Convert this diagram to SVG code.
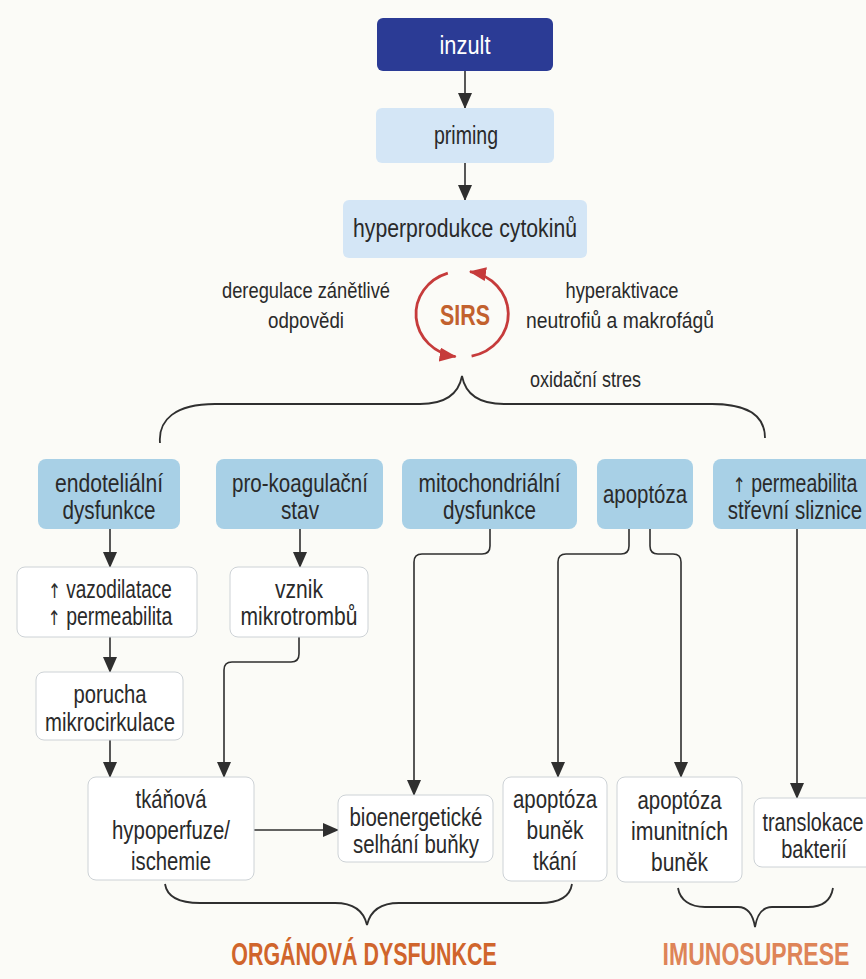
<svg xmlns="http://www.w3.org/2000/svg" width="866" height="979" viewBox="0 0 866 979">
<defs>
<style>
.t{font-family:"Liberation Sans",Arial,sans-serif;font-size:25px;fill:#2a2a2a;text-anchor:middle}
.top{font-size:26px}
.lbl{font-size:22px}
.wt{fill:#ffffff}
.ar{font-family:"DejaVu Sans",sans-serif;font-size:20px}
.sirs{font-weight:bold;font-size:30px;fill:#c2612e}
.title{font-weight:bold;font-size:32px;fill:#d0652c}
.title2{font-weight:bold;font-size:32px;fill:#de8458}
.bd{fill:#2b3b95}
.bl{fill:#d4e6f6}
.bb{fill:#a8d0e6}
.bw{fill:#ffffff;stroke:#cdd2d6;stroke-width:1}
.conn{fill:none;stroke:#2f2f2f;stroke-width:1.6;marker-end:url(#ah)}
.brace{fill:none;stroke:#2f2f2f;stroke-width:1.8}
.red{fill:none;stroke:#c63b3b;stroke-width:2.8;marker-end:url(#rah)}
</style>
<marker id="ah" viewBox="0 0 16 14" refX="15" refY="7" markerWidth="16" markerHeight="14" markerUnits="userSpaceOnUse" orient="auto">
<path d="M0,0 L16,7 L0,14 z" fill="#2f2f2f"/>
</marker>
<marker id="rah" viewBox="0 0 17 14" refX="16" refY="7" markerWidth="17" markerHeight="14" markerUnits="userSpaceOnUse" orient="auto">
<path d="M0,0 L17,7 L0,14 z" fill="#c63b3b"/>
</marker>
</defs>
<rect x="0" y="0" width="866" height="979" fill="#fbfbf7"/>

<g id="connectors">
<path class="conn" d="M465,71 L465,108"/>
<path class="conn" d="M465,163 L465,200"/>
<path class="conn" d="M110,529 L110,567"/>
<path class="conn" d="M110,637 L110,672"/>
<path class="conn" d="M110,740 L110,777"/>
<path class="conn" d="M300,529 L300,567"/>
<path class="conn" d="M299,637 L299,654 Q299,662 291,662 L232,662 Q224,662 224,670 L224,777"/>
<path class="conn" d="M490,529 L490,546 Q490,554 482,554 L422,554 Q414,554 414,562 L414,795"/>
<path class="conn" d="M629,529 L629,546 Q629,554 621,554 L566,554 Q558,554 558,562 L558,777"/>
<path class="conn" d="M650,529 L650,546 Q650,554 658,554 L673,554 Q681,554 681,562 L681,777"/>
<path class="conn" d="M797,529 L797,798"/>
<path class="conn" d="M254,830 L338,830"/>
<path class="brace" d="M160,443 C158,420 175,404 215,404 L420,404 C447,404 459,392 462,376 C465,392 477,404 504,404 L712,404 C752,404 765,418 765,438"/>
<path class="brace" d="M165,884 C167,897 178,903 200,903 L335,903 C355,903 364,912 367,925 C370,912 379,903 399,903 L540,903 C560,903 570,897 572,884"/>
<path class="brace" d="M678,888 C680,900 690,907 705,907 L738,907 C748,907 753,915 755,927 C757,915 762,907 772,907 L808,907 C824,907 831,900 833,888"/>
</g>

<g id="inzult"><rect class="bd" x="377" y="18" width="176" height="53" rx="6"/><text class="t top wt" x="465" y="54" textLength="51" lengthAdjust="spacingAndGlyphs">inzult</text></g>
<g id="priming"><rect class="bl" x="376" y="108" width="178" height="55" rx="6"/><text class="t top" x="466" y="144" textLength="64" lengthAdjust="spacingAndGlyphs">priming</text></g>
<g id="hyperprodukce"><rect class="bl" x="343" y="200" width="244" height="58" rx="6"/><text class="t top" x="465" y="237" textLength="224" lengthAdjust="spacingAndGlyphs">hyperprodukce cytokinů</text></g>

<g id="sirs">
<path class="red" d="M447.8,273.1 A46,43 0 0 0 455.6,356.6"/>
<path class="red" d="M471.6,356.1 A46,43 0 0 0 470,271.6"/>
<text class="t sirs" x="465" y="325" textLength="50" lengthAdjust="spacingAndGlyphs">SIRS</text>
</g>
<g id="lbl-deregulace"><text class="t lbl" x="306" y="298" textLength="168" lengthAdjust="spacingAndGlyphs">deregulace zánětlivé</text><text class="t lbl" x="306" y="328" textLength="76" lengthAdjust="spacingAndGlyphs">odpovědi</text></g>
<g id="lbl-hyperaktivace"><text class="t lbl" x="622" y="298" textLength="113" lengthAdjust="spacingAndGlyphs">hyperaktivace</text><text class="t lbl" x="620" y="328" textLength="188" lengthAdjust="spacingAndGlyphs">neutrofiů a makrofágů</text></g>
<g id="lbl-oxidacni"><text class="t lbl" x="530" y="387" style="text-anchor:start" textLength="111" lengthAdjust="spacingAndGlyphs">oxidační stres</text></g>

<g id="endotelialni"><rect class="bb" x="38" y="459" width="142" height="70" rx="8"/><text class="t" x="109" y="492" textLength="108" lengthAdjust="spacingAndGlyphs">endoteliální</text><text class="t" x="109" y="519" textLength="93" lengthAdjust="spacingAndGlyphs">dysfunkce</text></g>
<g id="prokoagulacni"><rect class="bb" x="216" y="459" width="167" height="70" rx="8"/><text class="t" x="300" y="492" textLength="136" lengthAdjust="spacingAndGlyphs">pro-koagulační</text><text class="t" x="300" y="519" textLength="38" lengthAdjust="spacingAndGlyphs">stav</text></g>
<g id="mitochondrialni"><rect class="bb" x="402" y="459" width="175" height="70" rx="8"/><text class="t" x="489.5" y="492" textLength="142" lengthAdjust="spacingAndGlyphs">mitochondriální</text><text class="t" x="489.5" y="519" textLength="93" lengthAdjust="spacingAndGlyphs">dysfunkce</text></g>
<g id="apoptoza"><rect class="bb" x="597" y="459" width="96" height="70" rx="8"/><text class="t" x="645" y="503" textLength="84" lengthAdjust="spacingAndGlyphs">apoptóza</text></g>
<g id="permeabilita-strevni"><rect class="bb" x="713" y="459" width="168" height="70" rx="8"/>
<text class="t" transform="translate(795,492) scale(0.78,1)" x="0" y="0"><tspan class="ar">↑</tspan> permeabilita</text>
<text class="t" transform="translate(795,519) scale(0.82,1)" x="0" y="0">střevní sliznice</text></g>

<g id="vazodilatace"><rect class="bw" x="17" y="567" width="180" height="70" rx="8"/>
<text class="t" transform="translate(110,598) scale(0.76,1)" x="0" y="0"><tspan class="ar">↑</tspan> vazodilatace</text>
<text class="t" transform="translate(110,625) scale(0.78,1)" x="0" y="0"><tspan class="ar">↑</tspan> permeabilita</text></g>
<g id="mikrotromby"><rect class="bw" x="230" y="567" width="138" height="70" rx="8"/><text class="t" x="299" y="598" textLength="48" lengthAdjust="spacingAndGlyphs">vznik</text><text class="t" x="299" y="625" textLength="117" lengthAdjust="spacingAndGlyphs">mikrotrombů</text></g>
<g id="porucha"><rect class="bw" x="36" y="672" width="147" height="68" rx="8"/><text class="t" x="110" y="703" textLength="73" lengthAdjust="spacingAndGlyphs">porucha</text><text class="t" x="110" y="731" textLength="130" lengthAdjust="spacingAndGlyphs">mikrocirkulace</text></g>

<g id="hypoperfuze"><rect class="bw" x="88" y="777" width="166" height="103" rx="8"/><text class="t" x="171" y="808" textLength="71" lengthAdjust="spacingAndGlyphs">tkáňová</text><text class="t" x="171" y="839" textLength="118" lengthAdjust="spacingAndGlyphs">hypoperfuze/</text><text class="t" x="171" y="870" textLength="80" lengthAdjust="spacingAndGlyphs">ischemie</text></g>
<g id="bioenergeticke"><rect class="bw" x="338" y="795" width="155" height="67" rx="8"/><text class="t" x="416" y="826" textLength="133" lengthAdjust="spacingAndGlyphs">bioenergetické</text><text class="t" x="416" y="853" textLength="126" lengthAdjust="spacingAndGlyphs">selhání buňky</text></g>
<g id="apoptoza-tkani"><rect class="bw" x="503" y="777" width="104" height="104" rx="8"/><text class="t" x="555" y="808" textLength="84" lengthAdjust="spacingAndGlyphs">apoptóza</text><text class="t" x="555" y="839" textLength="57" lengthAdjust="spacingAndGlyphs">buněk</text><text class="t" x="555" y="870" textLength="44" lengthAdjust="spacingAndGlyphs">tkání</text></g>
<g id="apoptoza-imunitnich"><rect class="bw" x="617" y="777" width="125" height="105" rx="8"/><text class="t" x="679.5" y="809" textLength="84" lengthAdjust="spacingAndGlyphs">apoptóza</text><text class="t" x="679.5" y="840" textLength="97" lengthAdjust="spacingAndGlyphs">imunitních</text><text class="t" x="679.5" y="871" textLength="57" lengthAdjust="spacingAndGlyphs">buněk</text></g>
<g id="translokace"><rect class="bw" x="754" y="798" width="128" height="69" rx="8"/>
<text class="t" transform="translate(813,831) scale(0.79,1)" x="0" y="0">translokace</text>
<text class="t" transform="translate(814,858) scale(0.8,1)" x="0" y="0">bakterií</text></g>

<g id="organova-dysfunkce"><text class="t title" transform="translate(364,965) scale(0.67,1)" x="0" y="0">ORGÁNOVÁ DYSFUNKCE</text></g>
<g id="imunosuprese"><text class="t title2" transform="translate(756,965) scale(0.72,1)" x="0" y="0">IMUNOSUPRESE</text></g>
</svg>
